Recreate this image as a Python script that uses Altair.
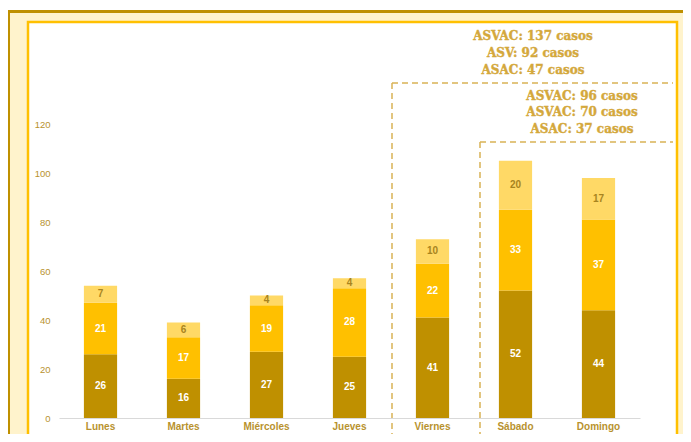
import altair as alt
import pandas as pd

days = ["Lunes", "Martes", "Miércoles", "Jueves", "Viernes", "Sábado", "Domingo"]
serie_a = [26, 16, 27, 25, 41, 52, 44]   # bottom (dark gold)
serie_b = [21, 17, 19, 28, 22, 33, 37]   # middle (yellow)
serie_c = [7, 6, 4, 4, 10, 20, 17]       # top (light yellow)
series_names = ["A", "B", "C"]
series_colors = ["#BF9000", "#FFC000", "#FFD966"]
y_ticks = [0, 20, 40, 60, 80, 100, 120]
note1 = ["ASVAC: 137 casos", "ASV: 92 casos", "ASAC: 47 casos"]
note2 = ["ASVAC: 96 casos", "ASVAC: 70 casos", "ASAC: 37 casos"]

rows = []
for i, d in enumerate(days):
    for k, vals in enumerate([serie_a, serie_b, serie_c]):
        rows.append({"day": d, "serie": series_names[k], "ord": k, "v": vals[i]})
df = pd.DataFrame(rows)

one = pd.DataFrame({"a": [0]})
GOLD_TXT = "#B8922E"
DASH = "#D9B255"

xenc = alt.X("day:N", sort=days, title=None,
             scale=alt.Scale(paddingInner=0.6, paddingOuter=0.3),
             axis=alt.Axis(labelAngle=0, labelFont="Liberation Sans", labelFontSize=10,
                           labelFontWeight="bold", labelColor=GOLD_TXT, labelPadding=3,
                           ticks=False, domainColor="#D9D9D9", domainWidth=1, zindex=1))
yenc_axis = alt.Axis(values=y_ticks, grid=False, ticks=False, domain=False,
                     labelFont="Liberation Sans", labelFontSize=9.5, labelColor=GOLD_TXT,
                     labelPadding=9, zindex=1)

base = alt.Chart(df).transform_stack(
    stack="v", groupby=["day"], as_=["y0", "y1"], sort=[alt.SortField("ord", order="ascending")]
).transform_calculate(mid="(datum.y0 + datum.y1) / 2")

bars = base.mark_bar().encode(
    x=xenc,
    y=alt.Y("y0:Q", title=None, scale=alt.Scale(domain=[0, 120], nice=False), axis=yenc_axis),
    y2="y1:Q",
    color=alt.Color("serie:N", scale=alt.Scale(domain=series_names, range=series_colors), legend=None),
)
labels = base.mark_text(font="Liberation Sans", fontSize=10, fontWeight="bold").encode(
    x=alt.X("day:N", sort=days),
    y=alt.Y("mid:Q"),
    text="v:Q",
    color=alt.condition("datum.ord == 2", alt.value("#A88420"), alt.value("white")),
)

def rect(x, x2, y, y2, **kw):
    return alt.Chart(one).mark_rect(**kw).encode(
        x=alt.value(x), x2=alt.value(x2), y=alt.value(y), y2=alt.value(y2))

def rule(x, x2, y, y2):
    return alt.Chart(one).mark_rule(color=DASH, strokeWidth=1.5, strokeDash=[6, 4]).encode(
        x=alt.value(x), x2=alt.value(x2), y=alt.value(y), y2=alt.value(y2))

cream = rect(-51, 640, -112, 330, color="#FFF3CC")
top_line = rect(-51, 640, -114, -111, color="#BF9000")
left_line = rect(-51, -49, -114, 330, color="#BF9000")
panel = rect(-31, 618, -102, 315, fill="white", stroke="#FFC000", strokeWidth=2.5)

dashes = [
    rule(333, 614, -41, -41),
    rule(333, 333, -41, 316),
    rule(421, 614, 18, 18),
    rule(421, 421, 18, 316),
]

def notes(lines, x, ys):
    d = pd.DataFrame({"t": lines, "yy": ys})
    return alt.Chart(d).mark_text(font="DejaVu Serif", fontSize=12, fontWeight="bold",
                                  color="#D4A83C", stroke="#D4A83C", strokeWidth=0.4,
                                  align="center", baseline="middle").encode(
        x=alt.value(x), y=alt.Y("yy:Q", scale=None), text="t:N")

ann1 = notes(note1, 474, [-88, -71, -54])
ann2 = notes(note2, 523, [-28, -12, 5])

chart = alt.layer(
    cream, top_line, left_line, panel, *dashes, bars, labels, ann1, ann2
).properties(
    width=581, height=294,
    padding={"left": 51, "top": 116, "right": 43, "bottom": 16},
    autosize=alt.AutoSizeParams(type="none"),
    background="white",
).configure_view(stroke=None)

chart.save("out.html", embed_options={"renderer": "svg", "actions": False})
